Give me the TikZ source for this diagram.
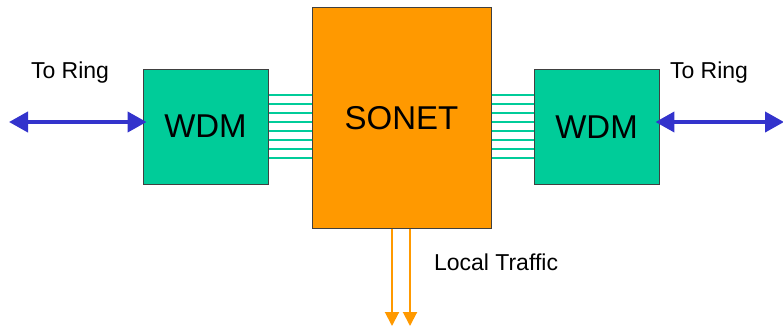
\documentclass[tikz,border=0pt]{standalone}
\usepackage{fontspec}
\setmainfont{Liberation Sans}
\usetikzlibrary{arrows.meta,backgrounds}
\definecolor{wdmteal}{RGB}{0,204,153}
\definecolor{sonetorange}{RGB}{255,153,0}
\definecolor{ringblue}{RGB}{51,51,204}
\tikzset{
  boxstyle/.style={draw=black!75, line width=0.9pt, inner sep=0pt},
  wdmbox/.style={boxstyle, fill=wdmteal, minimum width=125pt, minimum height=115pt, font=\fontsize{33}{36}\selectfont},
  sonetbox/.style={boxstyle, fill=sonetorange, minimum width=179pt, minimum height=221pt, font=\fontsize{33}{36}\selectfont},
  fiber/.style={draw=wdmteal, line width=2pt},
  ringarrow/.style={draw=ringblue, line width=4pt, {Triangle[length=19pt,width=20pt]}-{Triangle[length=19pt,width=20pt]}, shorten <=-1pt, shorten >=-4pt},
  droparrow/.style={draw=sonetorange, line width=2pt, -{Triangle[length=14pt,width=14pt]}},
  lbl/.style={font=\fontsize{23}{26}\selectfont, inner sep=0pt}
}
\begin{document}
\begin{tikzpicture}[x=1pt,y=-1pt]
  \useasboundingbox (0,0) rectangle (783,327);

  % WDM terminals and the SONET add/drop node
  \node[wdmbox] (wdmL) at (205.5,126.5) {WDM};
  \node[wdmbox] (wdmR) at (596.5,127) {WDM};
  \node[sonetbox] (sonet) at (401.5,118) {SONET};

  % fiber bundles, drawn behind the boxes
  \begin{scope}[on background layer]
    \foreach \yy in {95,104,113,122,131,140,149,158} {
      \draw[fiber] (wdmL.east |- 0,\yy) -- (sonet.west |- 0,\yy);
      \draw[fiber] (sonet.east |- 0,\yy) -- (wdmR.west |- 0,\yy);
    }
  \end{scope}

  % ring connections
  \coordinate (ringL) at (10,122);
  \coordinate (ringR) at (783,122);
  \draw[ringarrow] (ringL) -- (wdmL.west |- ringL);
  \draw[ringarrow] (ringR) -- (wdmR.east |- ringR);
  \node[lbl] (toringL) at (70,73) {To Ring};
  \node[lbl] (toringR) at (709,73) {To Ring};

  % local add/drop traffic
  \coordinate (dropA) at (392,326);
  \coordinate (dropB) at (410,326);
  \draw[droparrow] (sonet.south -| dropA) -- (dropA);
  \draw[droparrow] (sonet.south -| dropB) -- (dropB);
  \node[lbl] (local) at (496,262) {Local Traffic};
\end{tikzpicture}
\end{document}
